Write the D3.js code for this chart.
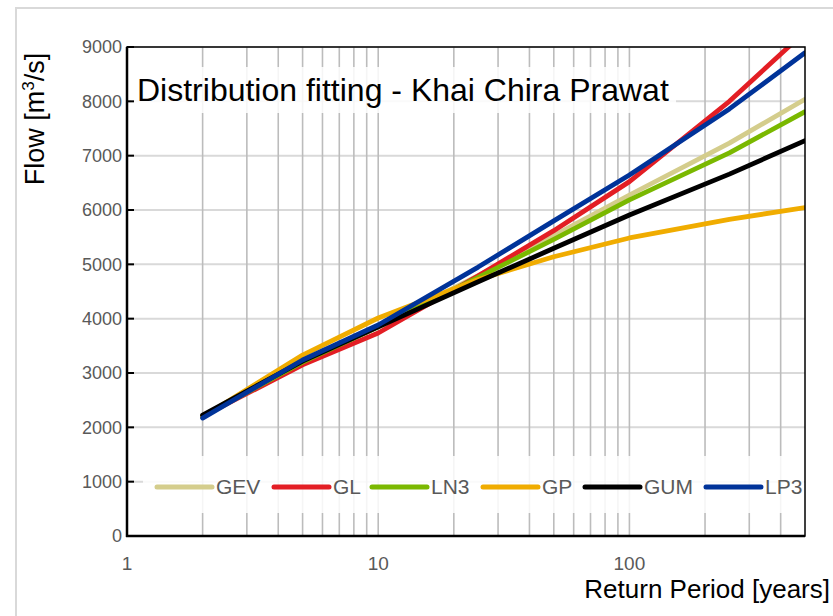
<!DOCTYPE html>
<html>
<head>
<meta charset="utf-8">
<script src="https://cdn.jsdelivr.net/npm/d3@7"></script>
<style>
  body { margin: 0; background: #fff; }
  svg text { font-family: "Liberation Sans", Arial, sans-serif; }
</style>
</head>
<body>
<div id="chart"></div>
<script>
// Return periods [years] and fitted flows [m3/s] per distribution
const returnPeriods = [2, 5, 10, 25, 50, 100, 250, 500];
const gev = [2200, 3220, 3860, 4790, 5530, 6276, 7230, 8037];
const gl  = [2200, 3150, 3736, 4790, 5620, 6522, 8000, 9280];
const ln3 = [2200, 3200, 3850, 4760, 5460, 6185, 7050, 7810];
const gp  = [2190, 3330, 4012, 4720, 5140, 5485, 5829, 6043];
const gum = [2225, 3220, 3850, 4680, 5295, 5908, 6660, 7275];
const lp3 = [2170, 3240, 3884, 4950, 5800, 6645, 7860, 8895];

const seriesNames = ['GEV', 'GL', 'LN3', 'GP', 'GUM', 'LP3'];
const seriesValues = [gev, gl, ln3, gp, gum, lp3];
const seriesColors = ['#d4cd8c', '#e31e24', '#7ab800', '#f0ac00', '#000000', '#003399'];

const yTicks = [0, 1000, 2000, 3000, 4000, 5000, 6000, 7000, 8000, 9000];
const xTickLabels = [1, 10, 100];

const W = 833, H = 616;
const m = { left: 127, top: 47, right: 805, bottom: 536 };

const svg = d3.select('#chart').append('svg')
  .attr('width', W).attr('height', H);

// chart frame
svg.append('rect')
  .attr('x', 16).attr('y', 8).attr('width', 900).attr('height', 700)
  .attr('fill', '#fff').attr('stroke', '#d9d9d9').attr('stroke-width', 2);

const x = d3.scaleLog().domain([1, 500]).range([m.left, m.right]);
const y = d3.scaleLinear().domain([0, 9000]).range([m.bottom, m.top]);

// gridlines
const minorX = [];
[1, 10, 100].forEach(dec => {
  for (let k = 2; k <= 10; k++) if (dec * k < 500) minorX.push(dec * k);
});

svg.append('g').selectAll('line')
  .data(yTicks.filter(d => d > 0))
  .enter().append('line')
  .attr('x1', m.left).attr('x2', m.right)
  .attr('y1', d => y(d)).attr('y2', d => y(d))
  .attr('stroke', '#d9d9d9').attr('stroke-width', 2);

svg.append('g').selectAll('line')
  .data(minorX)
  .enter().append('line')
  .attr('x1', d => x(d)).attr('x2', d => x(d))
  .attr('y1', m.top).attr('y2', m.bottom)
  .attr('stroke', '#bcbcbc').attr('stroke-width', 1.6);

// title box
svg.append('rect')
  .attr('x', 131).attr('y', 67).attr('width', 545).attr('height', 46)
  .attr('fill', '#fff').attr('fill-opacity', 0.85);
svg.append('text')
  .attr('x', 137).attr('y', 101)
  .attr('font-size', 32).attr('fill', '#000')
  .text('Distribution fitting - Khai Chira Prawat');

// legend box
svg.append('rect')
  .attr('x', 143).attr('y', 456).attr('width', 661).attr('height', 57)
  .attr('fill', '#fff').attr('fill-opacity', 0.85);

// series
svg.append('clipPath').attr('id', 'plotclip')
  .append('rect')
  .attr('x', m.left).attr('y', m.top)
  .attr('width', m.right - m.left).attr('height', m.bottom - m.top);

const line = d3.line()
  .x((d, i) => x(returnPeriods[i]))
  .y(d => y(d));

svg.append('g').attr('clip-path', 'url(#plotclip)')
  .selectAll('path')
  .data(seriesValues)
  .enter().append('path')
  .attr('d', d => line(d))
  .attr('fill', 'none')
  .attr('stroke', (d, i) => seriesColors[i])
  .attr('stroke-width', 4.8)
  .attr('stroke-linejoin', 'round')
  .attr('stroke-linecap', 'round');

// plot border and axes
svg.append('rect')
  .attr('x', m.left).attr('y', m.top)
  .attr('width', m.right - m.left).attr('height', m.bottom - m.top)
  .attr('fill', 'none').attr('stroke', '#000').attr('stroke-width', 1.5);
svg.append('line')
  .attr('x1', m.left).attr('x2', m.left).attr('y1', m.top).attr('y2', m.bottom + 1)
  .attr('stroke', '#000').attr('stroke-width', 2.5);
svg.append('line')
  .attr('x1', m.left - 1).attr('x2', m.right).attr('y1', m.bottom).attr('y2', m.bottom)
  .attr('stroke', '#000').attr('stroke-width', 2.5);

// y ticks + labels
const yAxis = svg.append('g');
yAxis.selectAll('line.tick')
  .data(yTicks).enter().append('line')
  .attr('x1', m.left).attr('x2', m.left + 7)
  .attr('y1', d => y(d)).attr('y2', d => y(d))
  .attr('stroke', '#000').attr('stroke-width', 2);
yAxis.selectAll('text')
  .data(yTicks).enter().append('text')
  .attr('x', m.left - 5).attr('y', d => y(d))
  .attr('dy', '0.35em')
  .attr('text-anchor', 'end')
  .attr('font-size', 18).attr('fill', '#595959')
  .text(d => d);

// x labels
svg.append('g').selectAll('text')
  .data(xTickLabels).enter().append('text')
  .attr('x', d => x(d)).attr('y', m.bottom + 27)
  .attr('dy', '0.35em')
  .attr('text-anchor', 'middle')
  .attr('font-size', 19).attr('fill', '#595959')
  .text(d => d);

// axis titles
svg.append('text')
  .attr('x', 830).attr('y', 598)
  .attr('text-anchor', 'end')
  .attr('font-size', 26).attr('fill', '#000')
  .text('Return Period [years]');

const yt = svg.append('text')
  .attr('transform', 'translate(44,119) rotate(-90)')
  .attr('text-anchor', 'middle')
  .attr('font-size', 27).attr('fill', '#000');
yt.append('tspan').text('Flow [m');
yt.append('tspan').attr('font-size', 17).attr('dy', -10).text('3');
yt.append('tspan').attr('dy', 10).text('/s]');

// legend
const legendX = [157, 274, 372, 483, 585, 706];
const legend = svg.append('g');
seriesNames.forEach((name, i) => {
  legend.append('line')
    .attr('x1', legendX[i]).attr('x2', legendX[i] + 55)
    .attr('y1', 487).attr('y2', 487)
    .attr('stroke', seriesColors[i]).attr('stroke-width', 5)
    .attr('stroke-linecap', 'round');
  legend.append('text')
    .attr('x', legendX[i] + 59).attr('y', 487)
    .attr('dy', '0.35em')
    .attr('font-size', 21).attr('fill', '#595959')
    .text(name);
});
</script>
</body>
</html>
